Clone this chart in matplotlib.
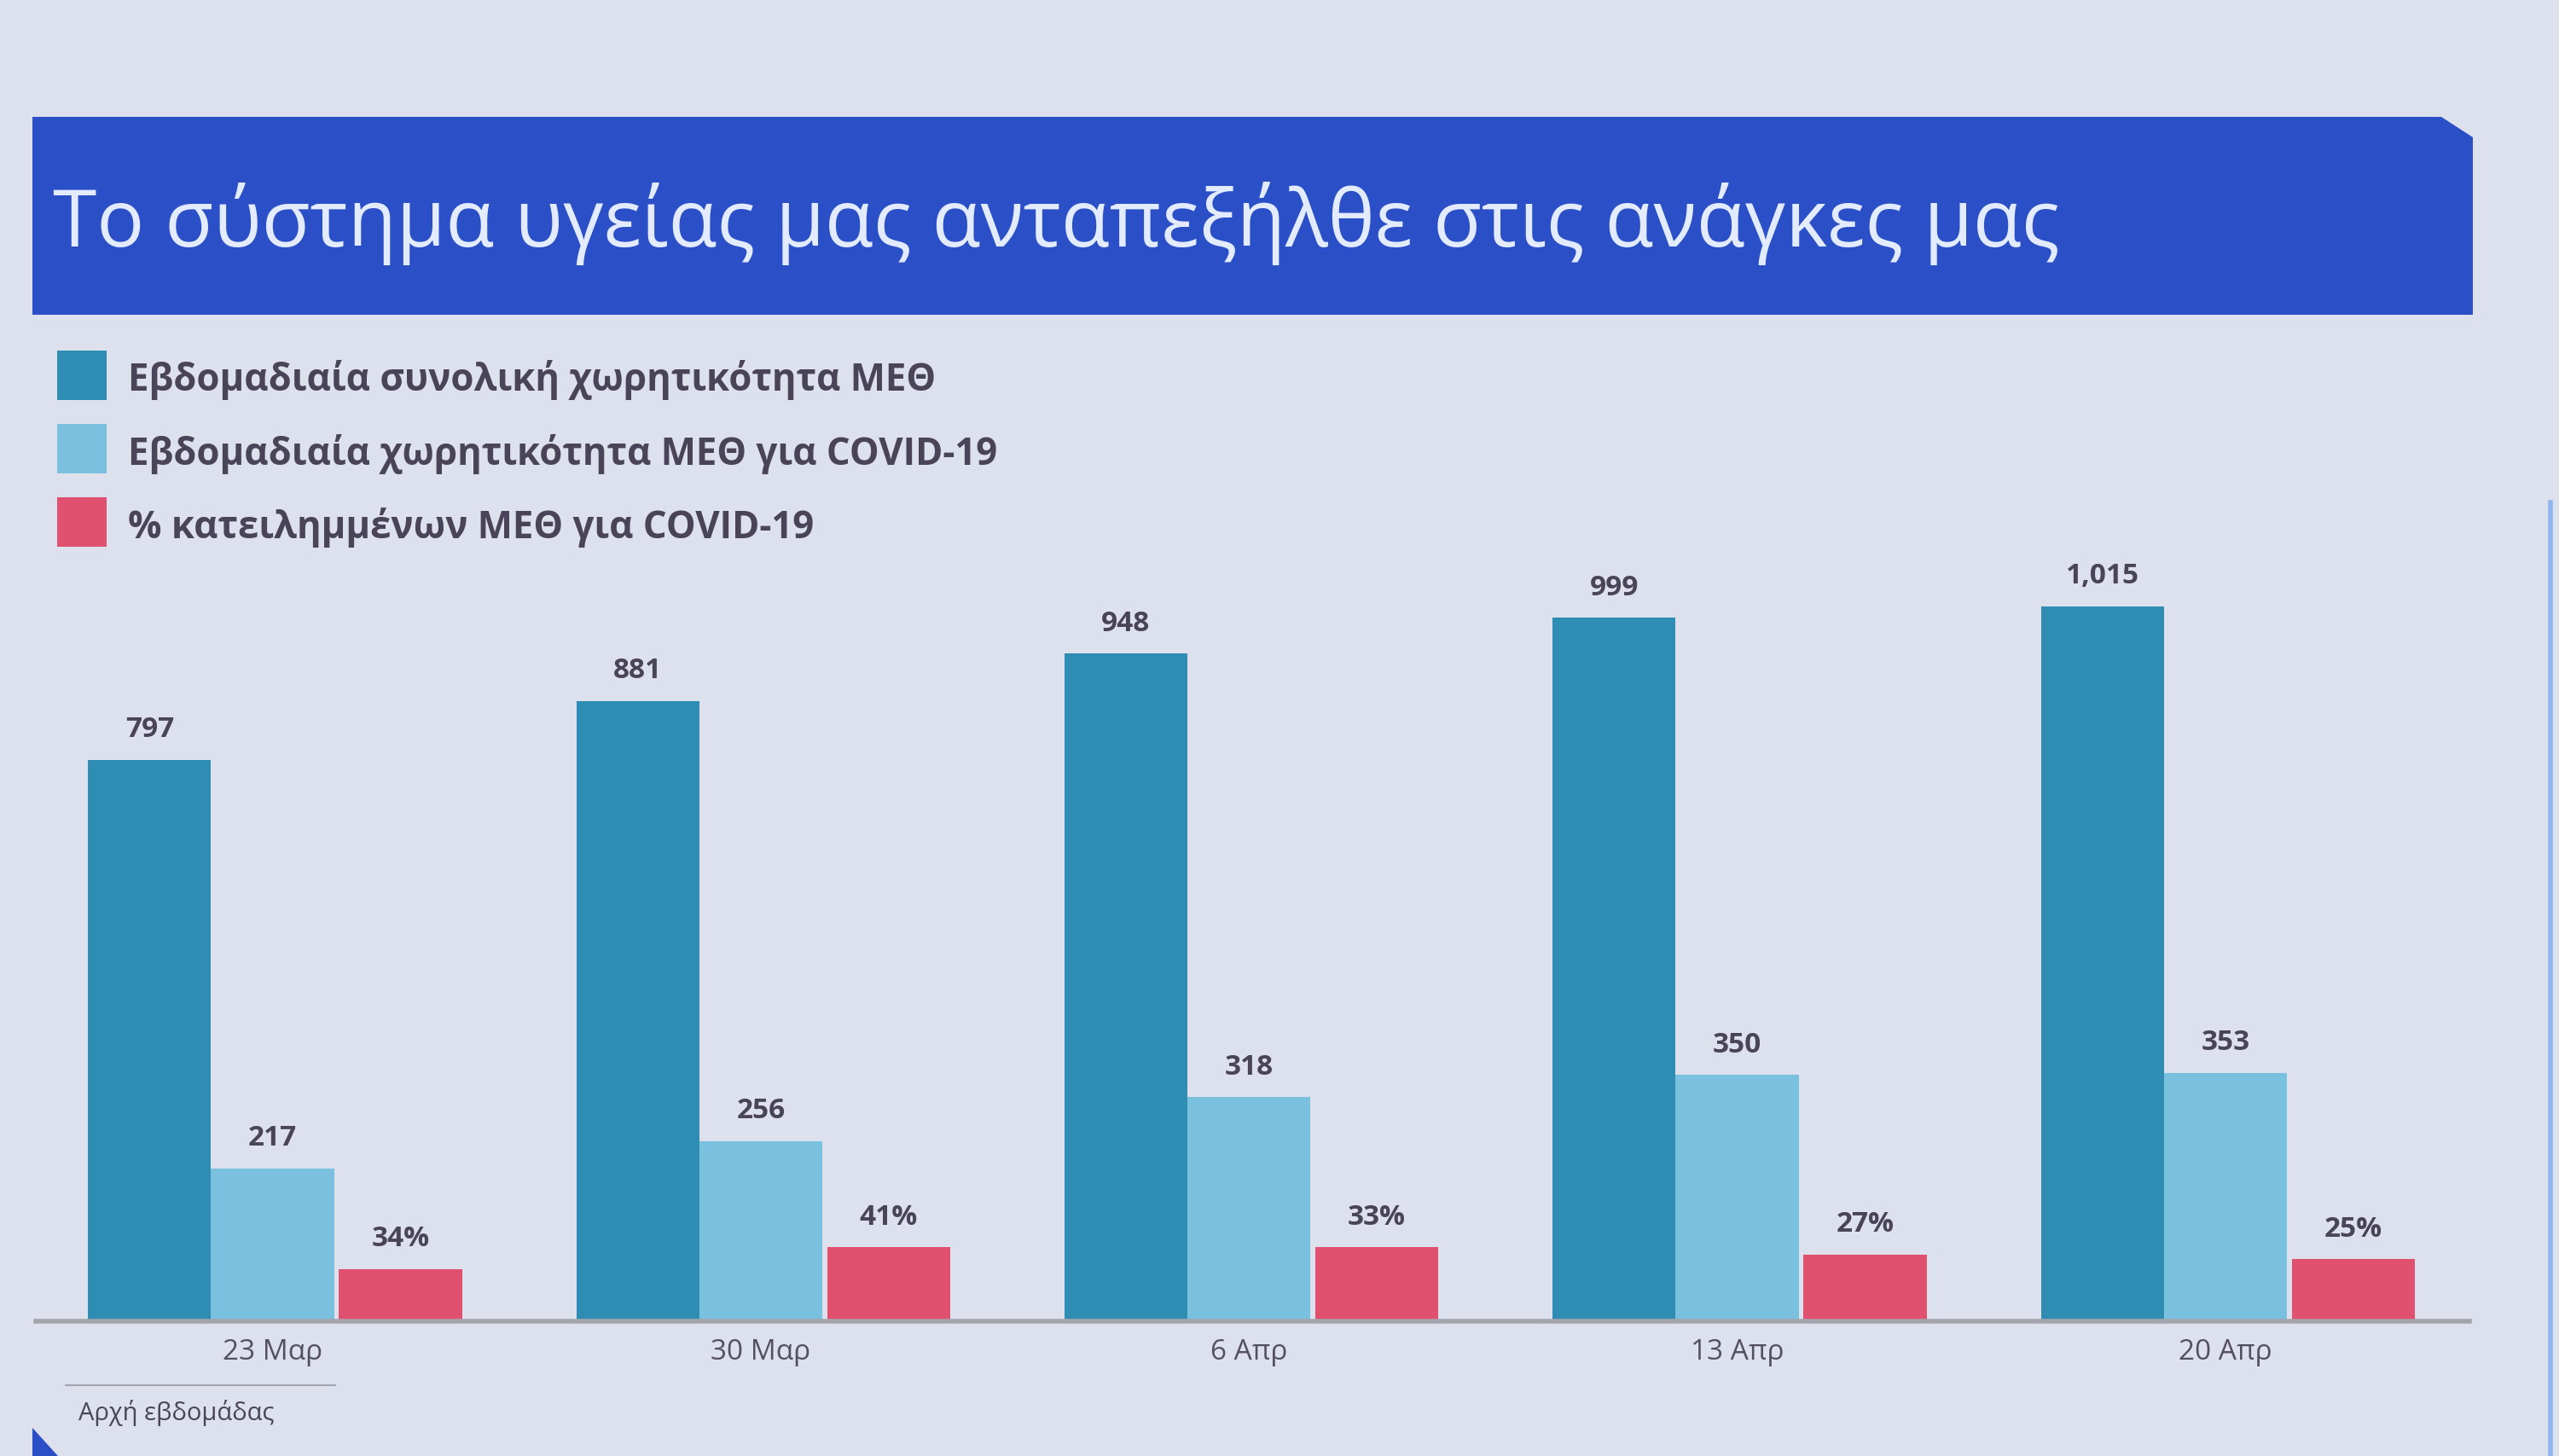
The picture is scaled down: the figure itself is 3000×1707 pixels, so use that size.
import matplotlib
matplotlib.use("Agg")
import matplotlib.pyplot as plt
import numpy as np
from matplotlib.patches import Polygon, Rectangle

# week start dates
weeks = ["23 Μαρ", "30 Μαρ", "6 Απρ", "13 Απρ", "20 Απρ"]
# weekly total ICU capacity
total_icu = [797, 881, 948, 999, 1015]
# weekly ICU capacity for COVID-19
covid_icu = [217, 256, 318, 350, 353]
# occupied COVID-19 ICU beds (bar height) and the % label shown on it
occupied_icu = [74, 105, 105, 95, 88]
occupied_pct = [34, 41, 33, 27, 25]

legend_labels = ["Εβδομαδιαία συνολική χωρητικότητα ΜΕΘ",
                 "Εβδομαδιαία χωρητικότητα ΜΕΘ για COVID-19",
                 "% κατειλημμένων ΜΕΘ για COVID-19"]

title = "Το σύστημα υγείας μας ανταπεξήλθε στις ανάγκες μας"

c_dark = "#2f8db4"
c_light = "#79c1df"
c_red = "#e0506f"
bg = "#dde1ee"
txt = "#4a4458"

W, H = 3000, 1708
fig = plt.figure(figsize=(30, 17.08), dpi=100, facecolor=bg)

def fx(x):
    return x / W

def fy(y):
    return 1 - y / H

# title banner
banner = Polygon([(fx(38), fy(138)), (fx(2862), fy(138)), (fx(2899), fy(162)),
                  (fx(2899), fy(370)), (fx(38), fy(370))],
                 closed=True, transform=fig.transFigure, facecolor="#2b4fc7",
                 edgecolor="none")
fig.patches.append(banner)
fig.text(fx(62), fy(262), title, color="#e2ebff", fontsize=67,
         family="Open Sans", va="center", ha="left")

# legend
sq_y = [412, 498, 584]
for lab, col, y in zip(legend_labels, [c_dark, c_light, c_red], sq_y):
    fig.patches.append(Rectangle((fx(67), fy(y + 58)), 58 / W, 58 / H,
                                 transform=fig.transFigure, facecolor=col,
                                 edgecolor="none"))
    fig.text(fx(150), fy(y + 34), lab, color=txt, fontsize=31.5,
             fontweight="bold", family="Open Sans", va="center", ha="left")

# chart
ax = fig.add_axes([fx(42), fy(1550), (2895 - 42) / W, (1550 - 650) / H])
ax.set_facecolor("none")
x = np.arange(len(weeks))
bw = 0.252
b1 = ax.bar(x - bw, total_icu, bw, color=c_dark)
b2 = ax.bar(x, covid_icu, bw, color=c_light)
b3 = ax.bar(x + bw + 0.01, occupied_icu, bw, color=c_red)

lab_kw = dict(fontsize=24, fontweight="bold", color=txt, padding=14,
              family="Open Sans")
ax.bar_label(b1, labels=[f"{v:,}" for v in total_icu], **lab_kw)
ax.bar_label(b2, labels=[str(v) for v in covid_icu], **lab_kw)
ax.bar_label(b3, labels=[f"{v}%" for v in occupied_pct], **lab_kw)

ax.set_xlim(-0.485, 4.5)
ax.set_ylim(0, 1090)
ax.set_yticks([])
ax.set_xticks(x)
ax.set_xticklabels(weeks, fontsize=24, color="#555060", family="Open Sans")
ax.tick_params(axis="x", length=0, pad=14)
for s in ["top", "right", "left"]:
    ax.spines[s].set_visible(False)
ax.spines["bottom"].set_color("#a4a4ac")
ax.spines["bottom"].set_linewidth(4)

# footnote under the first date
fig.add_artist(plt.Line2D([fx(77), fx(393)], [fy(1625), fy(1625)],
                          color="#a4a4ac", lw=1.5))
fig.text(fx(92), fy(1657), "Αρχή εβδομάδας", fontsize=21, color=txt,
         family="Open Sans", va="center", ha="left")

# slide corner mark and right edge
fig.patches.append(Polygon([(fx(38), fy(1675)), (fx(38), fy(1708)), (fx(68), fy(1708))],
                           closed=True, transform=fig.transFigure,
                           facecolor="#2b4fc7", edgecolor="none"))
fig.add_artist(plt.Line2D([fx(2990), fx(2990)], [fy(590), fy(1708)],
                          color="#8fb6ee", lw=4))

fig.savefig("out.png", dpi=100, facecolor=bg)
